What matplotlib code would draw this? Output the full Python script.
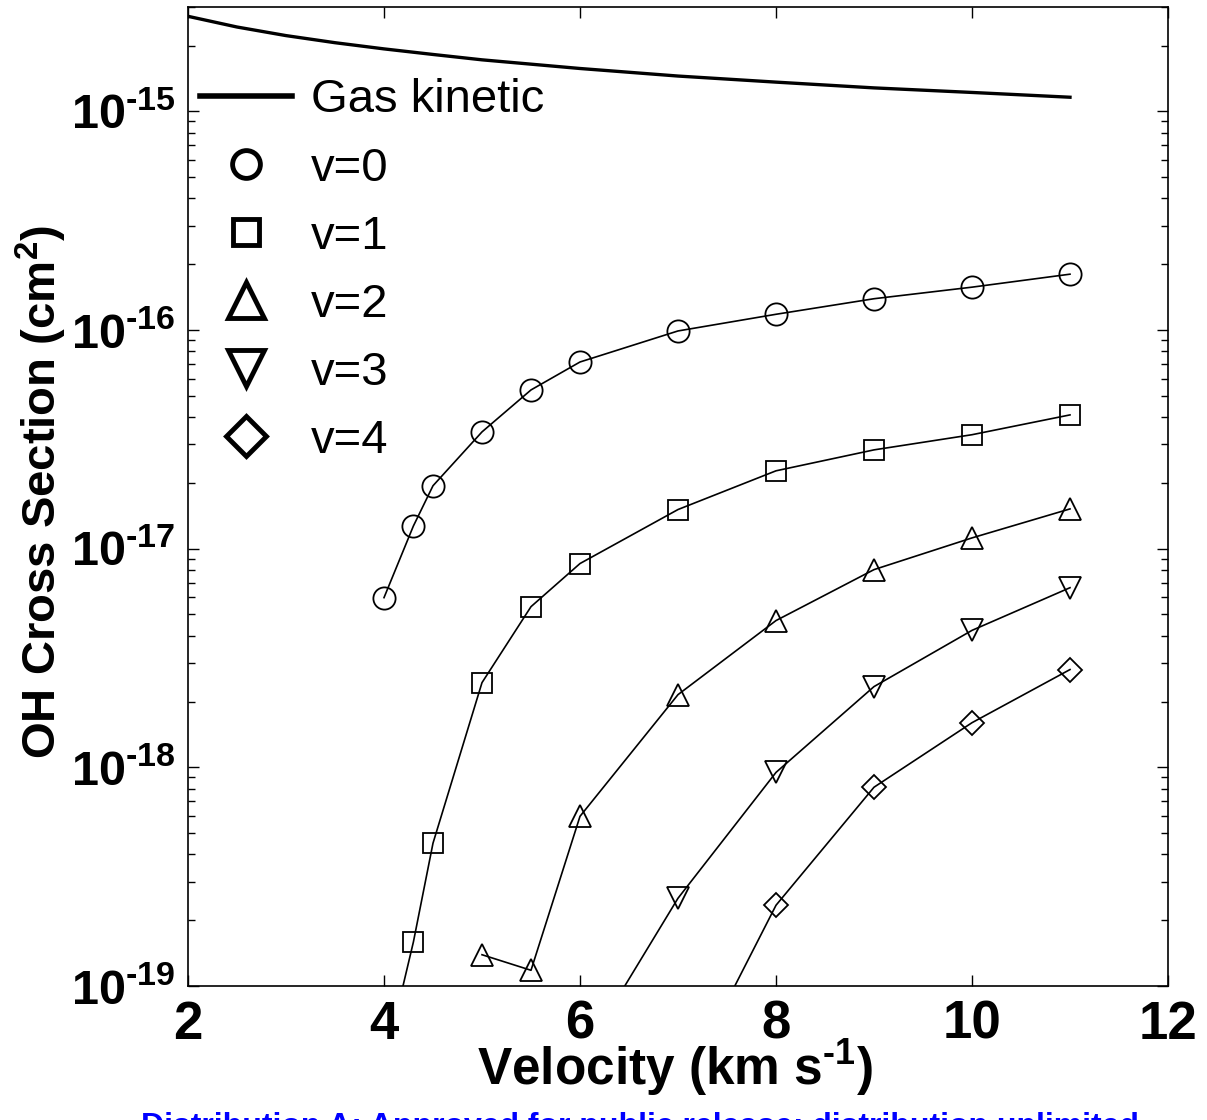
import numpy as np
import matplotlib
matplotlib.use("Agg")
import matplotlib.pyplot as plt
from matplotlib.lines import Line2D
from matplotlib.ticker import FixedLocator, LogLocator, FuncFormatter, NullFormatter

plt.rcParams['font.family'] = ['Liberation Sans', 'DejaVu Sans']
plt.rcParams['mathtext.fontset'] = 'custom'
plt.rcParams['mathtext.rm'] = 'Liberation Sans:bold'
plt.rcParams['mathtext.bf'] = 'Liberation Sans:bold'
plt.rcParams['mathtext.it'] = 'Liberation Sans:bold'
plt.rcParams['mathtext.default'] = 'bf'

# ---- data ----
gas_v = [2, 2.5, 3, 3.5, 4, 4.5, 5, 6, 7, 8, 9, 10, 11]
gas_sigma = [2.72e-15, 2.43e-15, 2.22e-15, 2.06e-15, 1.93e-15, 1.82e-15,
             1.72e-15, 1.57e-15, 1.45e-15, 1.36e-15, 1.28e-15, 1.22e-15,
             1.16e-15]

v0_x = [4.0, 4.3, 4.5, 5.0, 5.5, 6.0, 7.0, 8.0, 9.0, 10.0, 11.0]
v0_y = [5.97e-18, 1.27e-17, 1.94e-17, 3.42e-17, 5.32e-17, 7.14e-17,
        9.9e-17, 1.18e-16, 1.39e-16, 1.57e-16, 1.80e-16]

v1_x = [4.0, 4.3, 4.5, 5.0, 5.5, 6.0, 7.0, 8.0, 9.0, 10.0, 11.0]
v1_y = [4.3e-20, 1.59e-19, 4.5e-19, 2.44e-18, 5.43e-18, 8.55e-18,
        1.51e-17, 2.27e-17, 2.83e-17, 3.32e-17, 4.09e-17]

v2_x = [5.0, 5.5, 6.0, 7.0, 8.0, 9.0, 10.0, 11.0]
v2_y = [1.39e-19, 1.18e-19, 5.97e-19, 2.15e-18, 4.69e-18, 8.02e-18,
        1.12e-17, 1.52e-17]

v3_x = [6.0, 7.0, 8.0, 9.0, 10.0, 11.0]
v3_y = [4.6e-20, 2.52e-19, 9.48e-19, 2.34e-18, 4.23e-18, 6.63e-18]

v4_x = [7.0, 8.0, 9.0, 10.0, 11.0]
v4_y = [3.1e-20, 2.34e-19, 8.11e-19, 1.60e-18, 2.80e-18]

x_ticks = [2, 4, 6, 8, 10, 12]
y_ticks = [1e-19, 1e-18, 1e-17, 1e-16, 1e-15]
labels = ['Gas kinetic', 'v=0', 'v=1', 'v=2', 'v=3', 'v=4']

# ---- figure ----
fig = plt.figure(figsize=(12.07, 11.2), dpi=100)
ax = fig.add_axes([188 / 1207, 134 / 1120, 980 / 1207, 979 / 1120])

ax.plot(gas_v, gas_sigma, color='black', lw=2.4)
mk = dict(color='black', lw=1.2, mfc='none', mec='black', mew=1.3)
ax.plot(v0_x, v0_y, marker='o', ms=16, **mk)
ax.plot(v1_x, v1_y, marker='s', ms=15, **mk)
ax.plot(v2_x, v2_y, marker='^', ms=16, **mk)
ax.plot(v3_x, v3_y, marker='v', ms=16, **mk)
ax.plot(v4_x, v4_y, marker='D', ms=12, **mk)

ax.set_yscale('log')
ax.set_xlim(2, 12)
ax.set_ylim(1e-19, 3e-15)

ax.xaxis.set_major_locator(FixedLocator(x_ticks))
ax.yaxis.set_major_locator(FixedLocator(y_ticks))
ax.yaxis.set_minor_locator(LogLocator(base=10, subs=np.arange(2, 10)))
ax.yaxis.set_minor_formatter(NullFormatter())
ax.yaxis.set_major_formatter(FuncFormatter(
    lambda v, p: r'$\mathbf{10^{\text{-}%d}}$' % abs(int(round(np.log10(v))))))
ax.xaxis.set_major_formatter(FuncFormatter(lambda v, p: '%d' % v))

ax.tick_params(axis='both', which='both', direction='in', top=True, right=True,
               width=1.0, color='black')
ax.tick_params(axis='both', which='major', length=8)
ax.tick_params(axis='both', which='minor', length=5)
ax.tick_params(axis='x', labelsize=38, pad=10)
ax.tick_params(axis='y', labelsize=35, pad=9)
for lab in ax.get_xticklabels():
    lab.set_fontweight('bold')
for sp in ax.spines.values():
    sp.set_linewidth(1.2)

ax.set_xlabel('Velocity (km s$^{\\text{-}1}$)', fontsize=37, fontweight='bold')
ax.xaxis.set_label_coords(0.497, -0.053)
ax.set_ylabel('OH Cross Section (cm$^{2}$)', fontsize=34, fontweight='bold')
ax.yaxis.set_label_coords(-0.121, 0.505)

# ---- legend ----
lh = dict(color='black', mfc='none', mec='black', mew=3.5, ls='none')
handles = [
    Line2D([], [], color='black', lw=4),
    Line2D([], [], marker='o', ms=20, **lh),
    Line2D([], [], marker='s', ms=19, **lh),
    Line2D([], [], marker='^', ms=26, **lh),
    Line2D([], [], marker='v', ms=26, **lh),
    Line2D([], [], marker='D', ms=20, **lh),
]
ax.legend(handles, labels, loc='upper left', bbox_to_anchor=(0.012, 0.927),
          frameon=False, fontsize=34, handlelength=1.95, handletextpad=0.4,
          labelspacing=0.51, borderpad=0, borderaxespad=0)

fig.text(0.534, 0.0075, 'Distribution A: Approved for public release; distribution unlimited.',
         color='#0000ff', fontsize=23, fontweight='bold', ha='center', va='top')

fig.savefig('out.png', dpi=100)
